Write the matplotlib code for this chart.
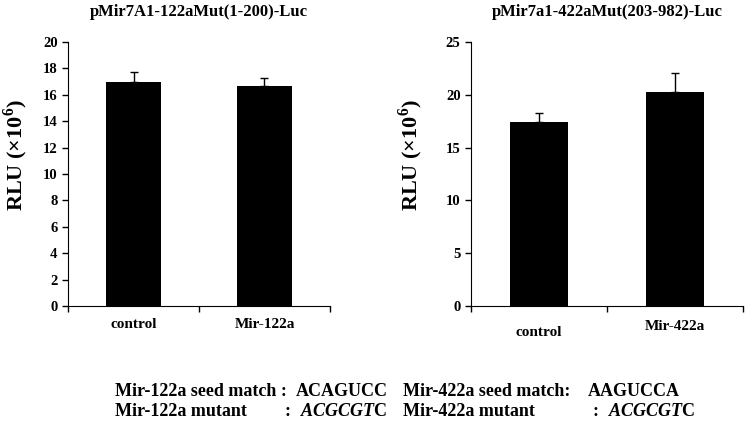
import numpy as np
from matplotlib import pyplot as plt

plt.rcParams['font.family'] = ['Liberation Serif', 'DejaVu Serif']
plt.rcParams['font.weight'] = 'bold'
plt.rcParams['mathtext.fontset'] = 'custom'
plt.rcParams['mathtext.bf'] = 'Liberation Serif:bold'
plt.rcParams['mathtext.bfit'] = 'Liberation Serif:bold:italic'

# left panel
left_title = 'pMir7A1-122aMut(1-200)-Luc'
left_cats = ['control', 'Mir-122a']
left_vals = [17.0, 16.7]
left_errs = [0.7, 0.6]

# right panel
right_title = 'pMir7a1-422aMut(203-982)-Luc'
right_cats = ['control', 'Mir-422a']
right_vals = [17.4, 20.3]
right_errs = [0.9, 1.8]

fig = plt.figure(figsize=(7.47, 4.21), dpi=100)
W, H = 747, 421


def panel(x0, x1, title, cats, vals, errs, ymax, step, label_x, label_dy):
    ax = fig.add_axes([x0 / W, 1 - 306 / H, (x1 - x0) / W, (306 - 42) / H])
    x = np.arange(len(cats)) + 0.5
    ax.bar(x, vals, width=0.42, color='black')
    ax.errorbar(x, vals, yerr=[np.zeros(len(errs)), errs], fmt='none',
                ecolor='black', elinewidth=1, capsize=3, capthick=1)
    ax.set_xlim(0, len(cats))
    ax.set_ylim(0, ymax)
    ax.set_yticks(np.arange(0, ymax + 0.1, step))
    ax.set_xticks(np.arange(len(cats) + 1))
    ax.set_xticklabels([])
    ax.tick_params(axis='x', direction='out', length=4, width=1)
    ax.tick_params(axis='y', direction='out', length=4, width=1, labelsize=10.5)
    for xi, c, dy in zip(x, cats, label_dy):
        ax.text(xi, (306 - 325 - dy) / 264, c, transform=ax.get_xaxis_transform(),
                ha='center', va='center', fontsize=11, fontweight='bold')
    ax.spines['top'].set_visible(False)
    ax.spines['right'].set_visible(False)
    ax.set_title(title, fontsize=12, fontweight='bold', pad=19)
    ax.set_ylabel('RLU (×10$^\\mathbf{6}$)', fontsize=16, fontweight='bold')
    ax.yaxis.set_label_coords((label_x - x0) / (x1 - x0), (306 - 155) / 264)
    return ax


panel(68, 330, left_title, left_cats, left_vals, left_errs, 20, 2, 30, [0, 0])
panel(471, 743, right_title, right_cats, right_vals, right_errs, 25, 5, 425, [7, 1])

fs = 13


def t(x, y, s):
    fig.text(x / W, 1 - y / H, s, fontsize=fs, fontweight='bold',
             ha='left', va='center')


y1, y2 = 391, 411
mutant = '$\\mathbfit{ACGCGT}$C'
t(115, y1, 'Mir-122a seed match :')
t(296, y1, 'ACAGUCC')
t(403, y1, 'Mir-422a seed match:')
t(588, y1, 'AAGUCCA')
t(115, y2, 'Mir-122a mutant')
t(285, y2, ':')
t(300, y2, mutant)
t(403, y2, 'Mir-422a mutant')
t(592, y2, ':')
t(608, y2, mutant)

fig.savefig('out.png', dpi=100)
